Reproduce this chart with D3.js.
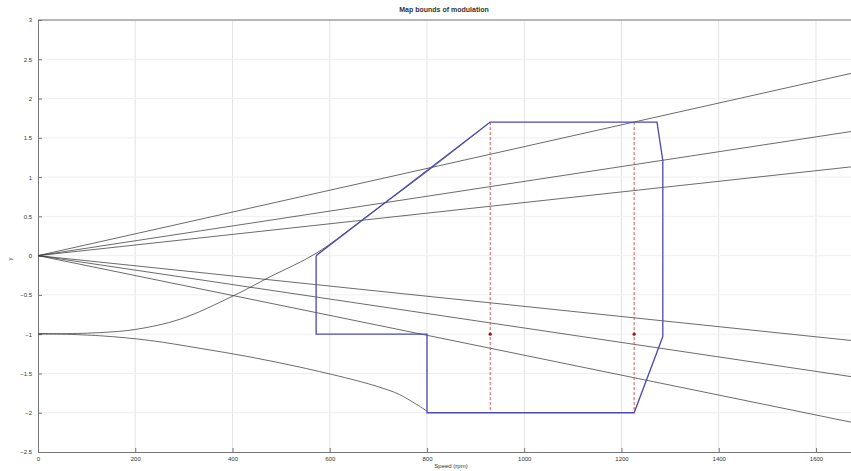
<!DOCTYPE html>
<html lang="en">
  <head>
    <meta charset="utf-8">
    <title>Map bounds</title>
    <style>
      body { margin: 0; background: #fff; }
      svg text { font-family: "Liberation Sans", Arial, sans-serif; fill: #333; }
    </style>
  </head>
  <body>
    <svg id="chart" width="851" height="471"></svg>
  </body>
  <script src="https://cdn.jsdelivr.net/npm/d3@7"></script>
  <script type="text/javascript">

    // tick values
    var xTicks = [0, 200, 400, 600, 800, 1000, 1200, 1400, 1600];
    var yTicks = [-2.5, -2, -1.5, -1, -0.5, 0, 0.5, 1, 1.5, 2, 2.5, 3];

    // straight lines from the origin, y value where they leave the plot (x = 1672)
    var rayEndX = 1672;
    var rayEndY = [2.32, 1.58, 1.13, -1.08, -1.54, -2.12];

    // upper curve
    var upperX = [0, 127, 200, 292, 399, 477, 572, 687, 802, 930];
    var upperY = [-1.0, -0.98, -0.94, -0.81, -0.52, -0.27, 0.03, 0.55, 1.08, 1.70];

    // lower curve
    var lowerX = [0, 127, 230, 333, 436, 539, 642, 700, 744, 800];
    var lowerY = [-0.99, -1.02, -1.08, -1.18, -1.29, -1.42, -1.57, -1.67, -1.77, -1.98];

    // blue boundary polygon
    var boundX = [572, 572, 800, 800, 1226, 1285, 1285, 1273, 930, 572];
    var boundY = [0, -1, -1, -2, -2, -1.03, 1.21, 1.70, 1.70, 0];

    // red dashed verticals and their markers
    var cutX = [930, 1226];
    var cutTop = 1.70;
    var cutBottom = -2;
    var cutMarkY = -1;

    var svg = d3.select("#chart");
    var x = d3.scaleLinear().domain([0, 1672]).range([38, 851]);
    var y = d3.scaleLinear().domain([-2.5, 3]).range([452, 20]);

    function zip(a, b) {
      return a.map(function(v, i) { return [v, b[i]]; });
    }
    var line = d3.line()
      .x(function(d) { return x(d[0]); })
      .y(function(d) { return y(d[1]); });
    var smooth = d3.line()
      .x(function(d) { return x(d[0]); })
      .y(function(d) { return y(d[1]); })
      .curve(d3.curveCatmullRom.alpha(0.5));

    // grid
    svg.append("g").selectAll("line").data(xTicks.slice(1)).enter().append("line")
      .attr("x1", function(d) { return x(d); }).attr("x2", function(d) { return x(d); })
      .attr("y1", 20).attr("y2", 452)
      .attr("stroke", "#e4e4e4").attr("stroke-width", 1);
    svg.append("g").selectAll("line").data(yTicks.slice(1)).enter().append("line")
      .attr("y1", function(d) { return y(d); }).attr("y2", function(d) { return y(d); })
      .attr("x1", 38).attr("x2", 851)
      .attr("stroke", "#efefef").attr("stroke-width", 1);

    // axes, ticks pointing inwards like matlab
    var xAxis = d3.axisBottom(x).tickValues(xTicks).tickSize(-4).tickPadding(5)
      .tickFormat(d3.format("d"));
    var yAxis = d3.axisLeft(y).tickValues(yTicks).tickSize(-4).tickPadding(6)
      .tickFormat(function(d) { return String(d).replace("-", "\u2212"); });

    var gx = svg.append("g").attr("transform", "translate(0,452)").call(xAxis);
    var gy = svg.append("g").attr("transform", "translate(38,0)").call(yAxis);
    [gx, gy].forEach(function(g) {
      g.select(".domain").attr("stroke", "#777");
      g.selectAll(".tick line").attr("stroke", "#777");
      g.selectAll(".tick text").attr("font-size", 6).attr("fill", "#444");
    });
    svg.append("line").attr("x1", 38).attr("x2", 851).attr("y1", 20).attr("y2", 20)
      .attr("stroke", "#777");

    // rays
    svg.append("g").selectAll("path").data(rayEndY).enter().append("path")
      .attr("d", function(d) { return line([[0, 0], [rayEndX, d]]); })
      .attr("fill", "none").attr("stroke", "#3a3a3a").attr("stroke-width", 0.75);

    // curves
    svg.append("path").attr("d", smooth(zip(upperX, upperY)))
      .attr("fill", "none").attr("stroke", "#3a3a3a").attr("stroke-width", 0.75);
    svg.append("path").attr("d", smooth(zip(lowerX, lowerY)))
      .attr("fill", "none").attr("stroke", "#3a3a3a").attr("stroke-width", 0.75);

    // red dashed cuts
    svg.append("g").selectAll("line").data(cutX).enter().append("line")
      .attr("x1", function(d) { return x(d); }).attr("x2", function(d) { return x(d); })
      .attr("y1", y(cutTop)).attr("y2", y(cutBottom))
      .attr("stroke", "#d9534f").attr("stroke-width", 1).attr("stroke-dasharray", "3,2");
    svg.append("g").selectAll("circle").data(cutX).enter().append("circle")
      .attr("cx", function(d) { return x(d); }).attr("cy", y(cutMarkY)).attr("r", 1.6)
      .attr("fill", "#8b1a1a");

    // boundary
    svg.append("path").attr("d", line(zip(boundX, boundY)))
      .attr("fill", "none").attr("stroke", "#4a4ab4").attr("stroke-width", 1.3);

    // labels
    svg.append("text").attr("x", 444).attr("y", 12).attr("text-anchor", "middle")
      .attr("font-size", 7).attr("font-weight", "bold").attr("fill", "#222")
      .text("Map bounds of modulation");
    svg.append("text").attr("x", 451).attr("y", 468).attr("text-anchor", "middle")
      .attr("font-size", 6).text("Speed (rpm)");
    svg.append("text").attr("transform", "translate(12,259) rotate(-90)")
      .attr("text-anchor", "middle").attr("font-size", 6).text("y");

  </script>
</html>
